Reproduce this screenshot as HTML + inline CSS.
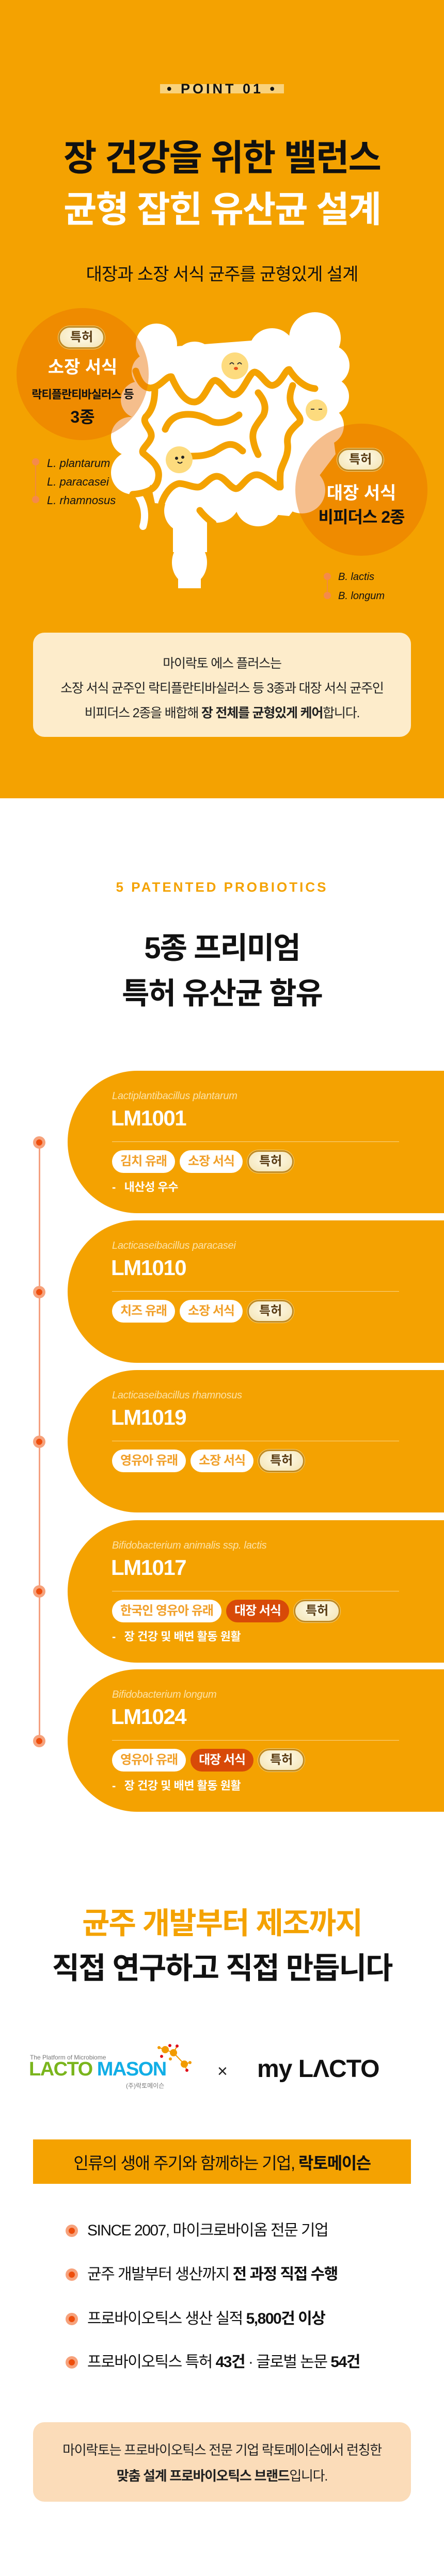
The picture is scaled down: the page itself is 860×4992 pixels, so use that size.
<!DOCTYPE html>
<html><head><meta charset="utf-8">
<style>
*{margin:0;padding:0;box-sizing:border-box}
body{width:860px;height:4992px;position:relative;background:#fff;font-family:"Liberation Sans","Noto Sans CJK KR",sans-serif;overflow:hidden;color:#111}
.a{position:absolute}
.c{position:absolute;left:0;width:860px;text-align:center;white-space:nowrap}
.card{position:absolute;left:131px;width:760px;height:276px;background:#f4a201;border-radius:135px 0 0 135px/138px 0 0 138px}
.sp{position:absolute;left:86px;top:38px;font-size:20px;font-style:italic;color:#fde2a6;white-space:nowrap;letter-spacing:-0.3px}
.lm{position:absolute;left:84px;top:68px;font-size:42px;font-weight:bold;color:#fff;letter-spacing:-1.5px}
.dv{position:absolute;left:86px;top:137px;width:556px;height:1px;background:#fbd58c}
.tags{position:absolute;left:86px;top:154px;display:flex;gap:9px;white-space:nowrap}
.tg{height:44px;line-height:44px;padding:0 16px;border-radius:22px;background:#fff;color:#f1a02a;font-size:24px;font-weight:bold;letter-spacing:-1px}
.tg.r{background:#d84a08;color:#fff}
.pt{height:44px;line-height:38px;padding:0 20px;border-radius:22px;background:radial-gradient(ellipse at 50% 40%,#fffdf0,#f3e2b0);border:3px solid #c08a24;color:#5a3d14;font-size:24px;font-weight:bold;box-shadow:0 0 0 1px #f5d27a}
.ds{position:absolute;left:86px;top:208px;font-size:22px;font-weight:bold;color:#fff;white-space:nowrap;letter-spacing:-0.5px}
.bl{position:absolute;left:127px;width:24px;height:24px;border-radius:50%;background:#f6a27c}
.bl:after{content:"";position:absolute;left:6px;top:6px;width:12px;height:12px;border-radius:50%;background:#ee4e0c}
.bt{position:absolute;left:169px;font-size:30px;color:#111;white-space:nowrap;letter-spacing:-1.5px;line-height:36px}
</style></head><body>

<div class="a" style="left:0;top:0;width:860px;height:1547px;background:#f4a201"></div>

<div class="a" style="left:310px;top:163px;width:240px;height:18px;background:#f9d27c"></div>
<div class="c" style="top:152px;font-size:27px;font-weight:bold;letter-spacing:5px;line-height:40px">• POINT 01 •</div>
<div class="c" style="top:266px;font-size:70px;font-weight:bold;letter-spacing:-2px;line-height:80px">장 건강을 위한 밸런스</div>
<div class="c" style="top:366px;font-size:70px;font-weight:bold;letter-spacing:-2px;line-height:80px;color:#fff">균형 잡힌 유산균 설계</div>
<div class="c" style="top:512px;font-size:34px;letter-spacing:-1px;line-height:40px">대장과 소장 서식 균주를 균형있게 설계</div>

<svg class="a" style="left:0;top:580px" width="860" height="600" viewBox="0 580 860 600">
<g fill="#fff">
<polygon points="290,675 620,650 650,880 560,1000 300,975 255,770"/>
<circle cx="303" cy="667" r="40"/><circle cx="377" cy="702" r="40"/><circle cx="450" cy="705" r="38"/>
<circle cx="527" cy="681" r="45"/><circle cx="610" cy="655" r="50"/><circle cx="637" cy="708" r="40"/>
<circle cx="640" cy="768" r="36"/><circle cx="628" cy="825" r="38"/><circle cx="607" cy="870" r="40"/>
<circle cx="585" cy="950" r="45"/><circle cx="500" cy="975" r="45"/><circle cx="420" cy="968" r="45"/>
<circle cx="360" cy="990" r="42"/><circle cx="270" cy="775" r="36"/><circle cx="253" cy="846" r="38"/>
<circle cx="257" cy="916" r="42"/><circle cx="290" cy="720" r="35"/>
<rect x="335" y="990" width="66" height="80"/>
<ellipse cx="367" cy="1090" rx="34" ry="42"/>
<rect x="345" y="1090" width="44" height="50"/>
</g>
<path d="M268,960 C285,985 280,1010 277,1020" stroke="#fff" stroke-width="14" fill="none" stroke-linecap="round"/>
<g stroke="#f4a201" stroke-width="13" fill="none" stroke-linecap="round" stroke-linejoin="round">
<path d="M263,719 C268,735 275,750 290,752 C310,752 322,728 332,730 C345,760 360,780 377,779 C397,778 405,737 417,737 C430,740 440,765 453,765 C470,765 482,722 493,721 C505,722 515,747 527,747 C545,745 552,716 560,716 C575,740 595,752 610,753"/>
<path d="M567,747 C560,765 560,778 567,790 C575,803 585,810 580,818 C560,835 555,845 557,860 C560,885 545,900 543,916 C542,930 543,944 543,944"/>
<path d="M300,751 C300,770 298,790 285,805 C270,818 295,830 293,846 C290,860 272,870 277,878 C295,893 310,905 307,925 C305,945 290,955 257,958"/>
<path d="M540,944 C525,935 510,920 497,920 C478,920 468,947 457,947 C445,946 435,923 420,923 C405,923 395,944 383,944 C370,944 360,937 347,937 C330,940 318,960 313,975"/>
<path d="M320,832 C328,812 342,804 360,803 C380,802 395,808 405,814 C420,824 445,818 463,804"/>
<path d="M370,884 C390,884 400,882 412,877 C425,870 438,858 452,862 C460,864 465,870 470,874"/>
<path d="M500,761 C512,775 517,790 510,805 C498,822 488,832 490,850 C492,865 497,875 500,881"/>
<path d="M387,989 C395,1000 405,1008 413,1014"/>
</g>
<g fill="#fddb7e"><circle cx="455" cy="709" r="26"/><circle cx="613" cy="795" r="21"/><circle cx="347" cy="891" r="26"/></g>
<path d="M445,706 q4,-6 8,0 M460,706 q4,-6 8,0" stroke="#333" stroke-width="2" fill="none"/>
<ellipse cx="457" cy="714" rx="4" ry="3" fill="#e8501a"/>
<path d="M602,793 h7 M617,793 h7" stroke="#333" stroke-width="2"/>
<circle cx="342" cy="888" r="3" fill="#222"/><circle cx="354" cy="886" r="3" fill="#222"/>
<path d="M344,895 q5,5 9,0" stroke="#222" stroke-width="2" fill="none"/>
<circle cx="160" cy="725" r="128" fill="rgba(232,110,0,0.45)"/>
<circle cx="700" cy="949" r="128" fill="rgba(232,110,0,0.45)"/>
</svg>

<div class="a pt" style="left:113px;top:632px;font-size:24px">특허</div>
<div class="a" style="left:30px;width:260px;top:692px;text-align:center;font-size:34px;font-weight:bold;color:#fff;line-height:40px">소장 서식</div>
<div class="a" style="left:20px;width:280px;top:751px;text-align:center;font-size:22px;font-weight:bold;letter-spacing:-1px;line-height:28px;white-space:nowrap">락티플란티바실러스 등</div>
<div class="a" style="left:30px;width:260px;top:789px;text-align:center;font-size:32px;font-weight:bold;line-height:38px">3종</div>

<div class="a pt" style="left:653px;top:869px">특허</div>
<div class="a" style="left:570px;width:260px;top:936px;text-align:center;font-size:34px;font-weight:bold;color:#fff;line-height:40px">대장 서식</div>
<div class="a" style="left:570px;width:260px;top:983px;text-align:center;font-size:32px;font-weight:bold;line-height:38px;letter-spacing:-1px">비피더스 2종</div>

<div class="a" style="left:68px;top:895px;width:2px;height:72px;background:#f08a40"></div>
<div class="a" style="left:62px;top:888px;width:14px;height:14px;border-radius:50%;background:#f58a4a"></div>
<div class="a" style="left:62px;top:961px;width:14px;height:14px;border-radius:50%;background:#f58a4a"></div>
<div class="a" style="left:91px;top:880px;font-size:22px;font-style:italic;line-height:36px">L. plantarum<br>L. paracasei<br>L. rhamnosus</div>
<div class="a" style="left:633px;top:1117px;width:2px;height:37px;background:#f08a40"></div>
<div class="a" style="left:627px;top:1110px;width:14px;height:14px;border-radius:50%;background:#f58a4a"></div>
<div class="a" style="left:627px;top:1147px;width:14px;height:14px;border-radius:50%;background:#f58a4a"></div>
<div class="a" style="left:655px;top:1100px;font-size:20px;font-style:italic;line-height:37px">B. lactis<br>B. longum</div>

<div class="a" style="left:64px;top:1226px;width:732px;height:202px;background:#fdeccb;border-radius:22px"></div>
<div class="c" style="top:1262px;font-size:25px;letter-spacing:-1.2px;line-height:48px;color:#222">마이락토 에스 플러스는<br>소장 서식 균주인 락티플란티바실러스 등 3종과 대장 서식 균주인<br>비피더스 2종을 배합해 <b>장 전체를 균형있게 케어</b>합니다.</div>

<div class="c" style="top:1702px;font-size:26px;font-weight:bold;color:#f4a201;letter-spacing:4px;line-height:34px">5 PATENTED PROBIOTICS</div>
<div class="c" style="top:1804px;font-size:58px;font-weight:bold;letter-spacing:-2px;line-height:68px">5종 프리미엄</div>
<div class="c" style="top:1892px;font-size:58px;font-weight:bold;letter-spacing:-2px;line-height:68px">특허 유산균 함유</div>

<div class="a" style="left:75px;top:2214px;width:3px;height:1160px;background:#f4a080"></div>
<div class="bl" style="left:64px;top:2202px"></div>
<div class="bl" style="left:64px;top:2492px"></div>
<div class="bl" style="left:64px;top:2782px"></div>
<div class="bl" style="left:64px;top:3072px"></div>
<div class="bl" style="left:64px;top:3362px"></div>

<div class="card" style="top:2075px"><div class="sp">Lactiplantibacillus plantarum</div><div class="lm">LM1001</div><div class="dv"></div>
<div class="tags"><span class="tg">김치 유래</span><span class="tg">소장 서식</span><span class="pt">특허</span></div><div class="ds">-&nbsp;&nbsp; 내산성 우수</div></div>
<div class="card" style="top:2365px"><div class="sp">Lacticaseibacillus paracasei</div><div class="lm">LM1010</div><div class="dv"></div>
<div class="tags"><span class="tg">치즈 유래</span><span class="tg">소장 서식</span><span class="pt">특허</span></div></div>
<div class="card" style="top:2655px"><div class="sp">Lacticaseibacillus rhamnosus</div><div class="lm">LM1019</div><div class="dv"></div>
<div class="tags"><span class="tg">영유아 유래</span><span class="tg">소장 서식</span><span class="pt">특허</span></div></div>
<div class="card" style="top:2946px"><div class="sp">Bifidobacterium animalis ssp. lactis</div><div class="lm">LM1017</div><div class="dv"></div>
<div class="tags"><span class="tg">한국인 영유아 유래</span><span class="tg r">대장 서식</span><span class="pt">특허</span></div><div class="ds">-&nbsp;&nbsp; 장 건강 및 배변 활동 원활</div></div>
<div class="card" style="top:3235px"><div class="sp">Bifidobacterium longum</div><div class="lm">LM1024</div><div class="dv"></div>
<div class="tags"><span class="tg">영유아 유래</span><span class="tg r">대장 서식</span><span class="pt">특허</span></div><div class="ds">-&nbsp;&nbsp; 장 건강 및 배변 활동 원활</div></div>

<div class="c" style="top:3694px;font-size:58px;font-weight:bold;color:#f4a201;letter-spacing:-2px;line-height:68px">균주 개발부터 제조까지</div>
<div class="c" style="top:3781px;font-size:58px;font-weight:bold;letter-spacing:-2px;line-height:68px">직접 연구하고 직접 만듭니다</div>

<div class="a" style="left:58px;top:3980px;font-size:12px;color:#777;white-space:nowrap">The Platform of Microbiome</div>
<div class="a" style="left:56px;top:3990px;font-size:38px;font-weight:bold;letter-spacing:-1.5px;white-space:nowrap;line-height:40px"><span style="color:#7ab51d">LACTO</span> <span style="color:#12aee6">MASON</span></div>
<div class="a" style="left:244px;top:4033px;font-size:12px;color:#777;white-space:nowrap">(주)락토메이슨</div>
<svg class="a" style="left:300px;top:3960px" width="80" height="60">
<g stroke="#f29b00" stroke-width="2"><line x1="20" y1="12" x2="36" y2="18"/><line x1="36" y1="18" x2="57" y2="40"/><line x1="20" y1="12" x2="8" y2="8"/><line x1="36" y1="18" x2="43" y2="5"/><line x1="57" y1="40" x2="62" y2="52"/><line x1="57" y1="40" x2="68" y2="37"/></g>
<g fill="#f29b00"><circle cx="20" cy="12" r="7"/><circle cx="36" cy="18" r="7"/><circle cx="57" cy="40" r="7"/><circle cx="8" cy="8" r="3"/><circle cx="68" cy="37" r="3"/><circle cx="30" cy="30" r="3"/></g>
<g fill="#e0101a"><circle cx="13" cy="25" r="3"/><circle cx="43" cy="5" r="3"/><circle cx="29" cy="4" r="3"/><circle cx="62" cy="52" r="3"/></g>
</svg>
<div class="a" style="left:421px;top:3994px;font-size:34px;font-weight:100;color:#222;line-height:40px">×</div>
<div class="a" style="left:498px;top:3982px;font-size:48px;font-weight:bold;letter-spacing:-1px;line-height:56px;white-space:nowrap">my LΛCTO</div>

<div class="a" style="left:64px;top:4146px;width:732px;height:86px;background:#f4a201"></div>
<div class="c" style="top:4172px;font-size:32px;letter-spacing:-1.5px;line-height:40px">인류의 생애 주기와 함께하는 기업, <b>락토메이슨</b></div>

<div class="bl" style="top:4311px"></div><div class="bt" style="top:4305px">SINCE 2007, 마이크로바이옴 전문 기업</div>
<div class="bl" style="top:4396px"></div><div class="bt" style="top:4390px">균주 개발부터 생산까지 <b>전 과정 직접 수행</b></div>
<div class="bl" style="top:4482px"></div><div class="bt" style="top:4476px">프로바이오틱스 생산 실적 <b>5,800건 이상</b></div>
<div class="bl" style="top:4566px"></div><div class="bt" style="top:4560px">프로바이오틱스 특허 <b>43건</b> · 글로벌 논문 <b>54건</b></div>

<div class="a" style="left:64px;top:4694px;width:732px;height:154px;background:#fbdcb9;border-radius:22px"></div>
<div class="c" style="top:4723px;font-size:26px;letter-spacing:-1.3px;line-height:50px;color:#222">마이락토는 프로바이오틱스 전문 기업 락토메이슨에서 런칭한<br><b>맞춤 설계 프로바이오틱스 브랜드</b>입니다.</div>

</body></html>
